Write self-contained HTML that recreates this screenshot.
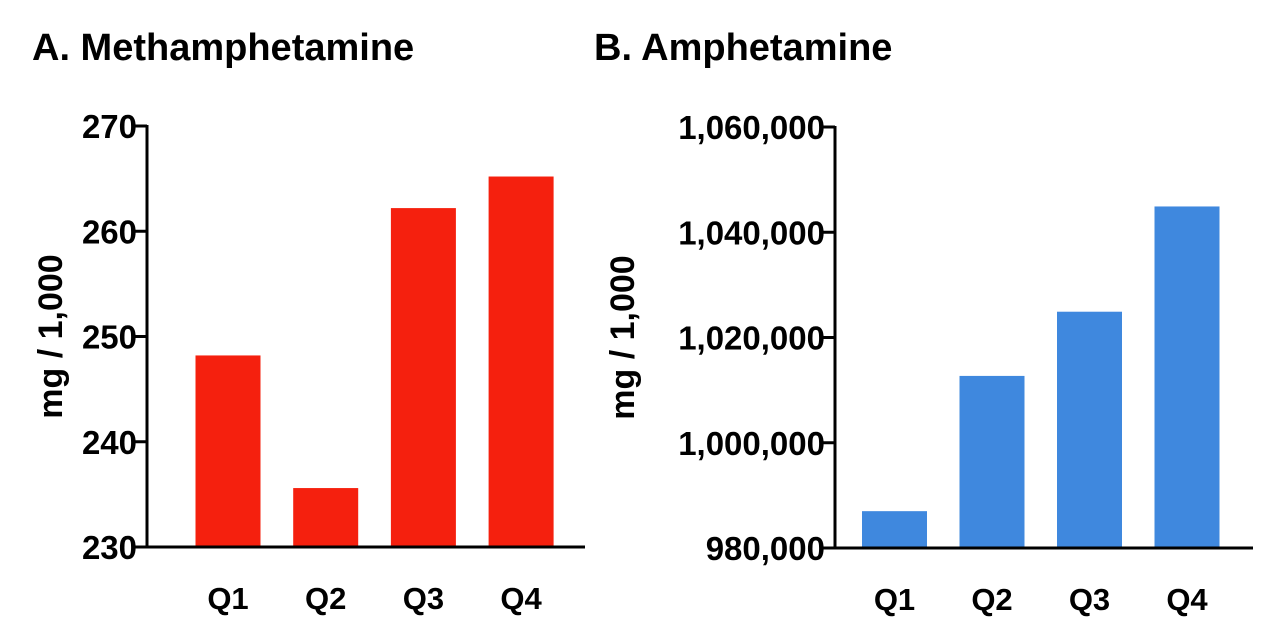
<!DOCTYPE html>
<html><head><meta charset="utf-8"><style>
html,body{margin:0;padding:0;background:#fff;}
svg{display:block;font-family:"Liberation Sans",Arial,sans-serif;font-weight:bold;}
</style></head><body>
<svg id="c" width="1280" height="631" viewBox="0 0 1280 631" xmlns="http://www.w3.org/2000/svg">
<text x="32" y="60" font-size="38">A. Methamphetamine</text>
<text x="594" y="60" font-size="38">B. Amphetamine</text>
<g id="pa"></g>
<g id="pb"></g>
</svg>
<script>
const categories=["Q1","Q2","Q3","Q4"];
const methValues=[248.2,235.6,262.2,265.2];
const methTicks=[230,240,250,260,270];
const methTickLabels=["230","240","250","260","270"];
const amphValues=[987000,1012700,1024900,1044900];
const amphTicks=[980000,1000000,1020000,1040000,1060000];
const amphTickLabels=["980,000","1,000,000","1,020,000","1,040,000","1,060,000"];
const NS="http://www.w3.org/2000/svg";
function mk(p,t,a){const e=document.createElementNS(NS,t);for(const k in a)e.setAttribute(k,a[k]);p.appendChild(e);return e;}
function panel(g,cfg){
  const y=v=>cfg.y0-(v-cfg.min)/(cfg.max-cfg.min)*(cfg.y0-cfg.y1);
  const xc=i=>cfg.firstX+i*cfg.step;
  cfg.values.forEach((v,i)=>{
    const r=mk(g,"rect",{x:xc(i)-cfg.bw/2,y:y(v),width:cfg.bw,height:cfg.y0-y(v),fill:cfg.color});
    
    
    const t=mk(g,"text",{x:xc(i),y:cfg.y0+62,"font-size":31,"text-anchor":"middle"});
    t.textContent=categories[i];
    
    
  });
  const ya=mk(g,"line",{x1:cfg.ax,x2:cfg.ax,y1:cfg.y1-1,y2:cfg.y0+1.5,stroke:"#000","stroke-width":3});
  
  
  const xa=mk(g,"line",{x1:cfg.ax-1.5,x2:cfg.xEnd,y1:cfg.y0,y2:cfg.y0,stroke:"#000","stroke-width":3});
  
  
  cfg.ticks.forEach((v,i)=>{
    mk(g,"line",{x1:cfg.ax-14,x2:cfg.ax,y1:y(v),y2:y(v),stroke:"#000","stroke-width":3});
    const t=mk(g,"text",{x:cfg.ax-10,y:y(v)+12,"font-size":33,"text-anchor":"end"});
    t.textContent=cfg.labels[i];
    
    
  });
  const yt=mk(g,"text",{x:0,y:0,"font-size":34,"text-anchor":"middle",transform:`translate(${cfg.titleX},${(cfg.y0+cfg.y1)/2}) rotate(-90)`});
  yt.textContent="mg / 1,000";
  
  
}
panel(document.getElementById("pa"),{values:methValues,ticks:methTicks,labels:methTickLabels,min:230,max:270,y0:547,y1:126,ax:147,xEnd:585,firstX:228,step:97.7,bw:65,color:"#f5200e",titleX:62});
panel(document.getElementById("pb"),{values:amphValues,ticks:amphTicks,labels:amphTickLabels,min:980000,max:1060000,y0:548,y1:127,ax:835,xEnd:1253,firstX:894.5,step:97.5,bw:65,color:"#3f88de",titleX:634});
</script>
</body></html>
